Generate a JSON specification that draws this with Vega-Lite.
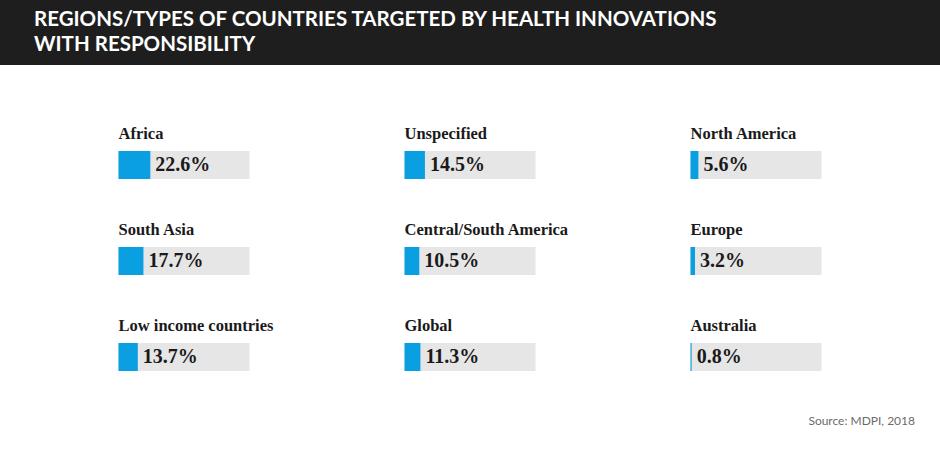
{
  "$schema": "https://vega.github.io/schema/vega-lite/v6.json",
  "padding": 0,
  "background": "#ffffff",
  "spacing": 60,
  "center": true,
  "title": {
    "text": "Source: MDPI, 2018",
    "orient": "bottom",
    "anchor": "end",
    "dx": -25,
    "offset": 45,
    "font": "Lato",
    "fontSize": 12,
    "fontWeight": "normal",
    "color": "#6b6b6b"
  },
  "vconcat": [
    {
      "width": 940,
      "height": 65,
      "view": {"fill": "#1e1e1e", "stroke": null},
      "data": {"values": [{"x": 0}]},
      "title": {
        "text": ["REGIONS/TYPES OF COUNTRIES TARGETED BY HEALTH INNOVATIONS", "WITH RESPONSIBILITY"],
        "orient": "bottom",
        "anchor": "start",
        "frame": "group",
        "dx": 34,
        "offset": -55,
        "baseline": "top",
        "lineHeight": 25,
        "font": "Lato",
        "fontWeight": "bold",
        "fontSize": 20.5,
        "color": "#ffffff"
      },
      "mark": {"type": "text", "text": ""},
      "encoding": {}
    },
    {
      "data": {
        "values": [
          {"name": "Africa", "value": 0.226, "ord": 1},
          {"name": "Unspecified", "value": 0.145, "ord": 2},
          {"name": "North America", "value": 0.056, "ord": 3},
          {"name": "South Asia", "value": 0.177, "ord": 4},
          {"name": "Central/South America", "value": 0.105, "ord": 5},
          {"name": "Europe", "value": 0.032, "ord": 6},
          {"name": "Low income countries", "value": 0.137, "ord": 7},
          {"name": "Global", "value": 0.113, "ord": 8},
          {"name": "Australia", "value": 0.008, "ord": 9}
        ]
      },
      "columns": 3,
      "bounds": "flush",
      "spacing": {"column": 155, "row": 68},
      "facet": {
        "field": "name",
        "type": "nominal",
        "title": null,
        "sort": {"field": "ord", "op": "min"},
        "header": {
          "labelFont": "Liberation Serif",
          "labelFontWeight": "bold",
          "labelFontSize": 16.5,
          "labelColor": "#1a1a1a",
          "labelAnchor": "start",
          "labelAlign": "left",
          "labelBaseline": "alphabetic",
          "labelPadding": -4
        }
      },
      "spec": {
        "width": 131,
        "height": 28,
        "layer": [
          {
            "mark": {"type": "rect", "color": "#e6e6e6"},
            "encoding": {
              "x": {"datum": 0.93, "type": "quantitative", "scale": {"domain": [0, 0.93]}, "axis": null},
              "x2": {"datum": 0},
              "y": {"datum": 0, "type": "quantitative", "scale": {"domain": [0, 1]}, "axis": null},
              "y2": {"datum": 1}
            }
          },
          {
            "mark": {"type": "rect", "color": "#0a9fe0"},
            "encoding": {
              "x": {"field": "value", "type": "quantitative", "scale": {"domain": [0, 0.93]}, "axis": null},
              "x2": {"datum": 0},
              "y": {"datum": 0, "type": "quantitative", "scale": {"domain": [0, 1]}, "axis": null},
              "y2": {"datum": 1}
            }
          },
          {
            "mark": {"type": "text", "align": "left", "baseline": "middle", "dx": 5, "font": "Liberation Serif", "fontWeight": "bold", "fontSize": 20, "color": "#1a1a1a"},
            "encoding": {
              "x": {"field": "value", "type": "quantitative", "scale": {"domain": [0, 0.93]}, "axis": null},
              "y": {"datum": 0.5, "type": "quantitative", "scale": {"domain": [0, 1]}, "axis": null},
              "text": {"field": "value", "type": "quantitative", "format": ".1%"}
            }
          }
        ]
      }
    }
  ],
  "config": {"view": {"stroke": null}}
}
